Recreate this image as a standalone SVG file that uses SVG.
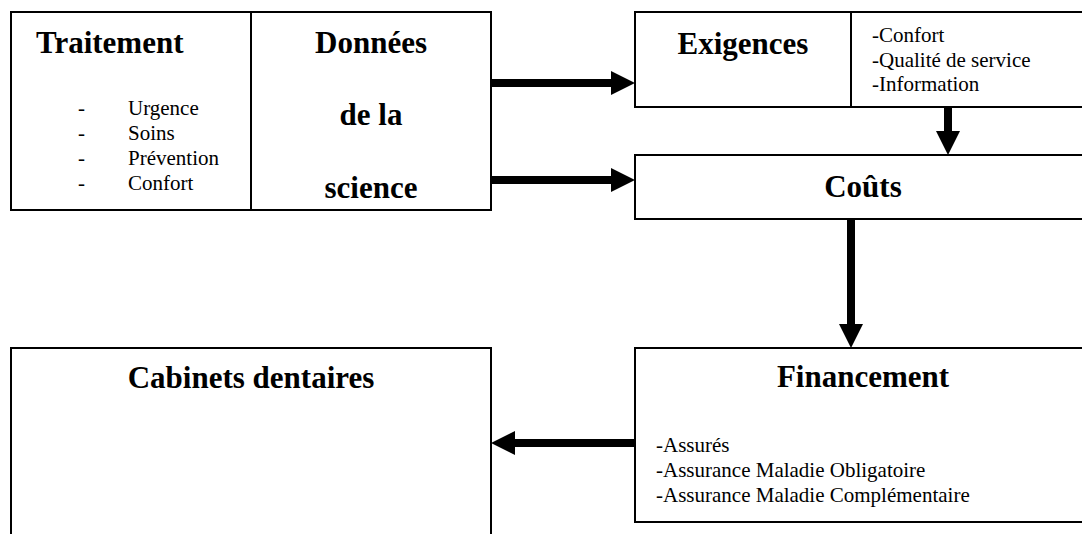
<svg xmlns="http://www.w3.org/2000/svg" width="1082" height="534" viewBox="0 0 1082 534">
  <style>
    .box { fill: #ffffff; stroke: #000000; stroke-width: 2; }
    .div { stroke: #000000; stroke-width: 2; }
    .h { font-family: 'Liberation Serif', 'Times New Roman', Times, serif; font-weight: bold; font-size: 31px; fill: #000; }
    .t { font-family: 'Liberation Serif', 'Times New Roman', Times, serif; font-size: 21px; fill: #000; }
    .c { text-anchor: middle; }
    .arrow { stroke: #000000; stroke-width: 8; fill: none; marker-end: url(#ah); }
  </style>
  <defs>
    <marker id="ah" viewBox="0 0 24 24" markerWidth="24" markerHeight="24" refX="4" refY="12" orient="auto" markerUnits="userSpaceOnUse">
      <path d="M0,0 L24,12 L0,24 z" fill="#000000"/>
    </marker>
  </defs>
  <rect width="1082" height="534" fill="#ffffff"/>

  <g id="traitement-donnees">
    <rect class="box" x="11" y="12" width="480" height="198"/>
    <line class="div" x1="251" y1="12" x2="251" y2="210"/>
    <text class="h" x="36" y="53">Traitement</text>
    <text class="t" x="78" y="115">-</text>
    <text class="t" x="128" y="115">Urgence</text>
    <text class="t" x="78" y="140">-</text>
    <text class="t" x="128" y="140">Soins</text>
    <text class="t" x="78" y="165">-</text>
    <text class="t" x="128" y="165">Prévention</text>
    <text class="t" x="78" y="190">-</text>
    <text class="t" x="128" y="190">Confort</text>
    <text class="h c" x="371" y="53">Données</text>
    <text class="h c" x="371" y="125">de la</text>
    <text class="h c" x="371" y="198">science</text>
  </g>

  <g id="exigences">
    <rect class="box" x="635" y="12" width="456" height="95"/>
    <line class="div" x1="851" y1="12" x2="851" y2="107"/>
    <text class="h c" x="743" y="54">Exigences</text>
    <text class="t" x="872" y="42">-Confort</text>
    <text class="t" x="872" y="66.5">-Qualité de service</text>
    <text class="t" x="872" y="91">-Information</text>
  </g>

  <g id="couts">
    <rect class="box" x="635" y="155" width="456" height="64"/>
    <text class="h c" x="863" y="197">Coûts</text>
  </g>

  <g id="financement">
    <rect class="box" x="635" y="348" width="456" height="174"/>
    <text class="h c" x="863" y="387">Financement</text>
    <text class="t" x="656" y="452">-Assurés</text>
    <text class="t" x="656" y="477">-Assurance Maladie Obligatoire</text>
    <text class="t" x="656" y="502">-Assurance Maladie Complémentaire</text>
  </g>

  <g id="cabinets">
    <rect class="box" x="11" y="348" width="480" height="200"/>
    <text class="h c" x="251" y="388">Cabinets dentaires</text>
  </g>

  <g id="connectors">
    <line class="arrow" x1="491" y1="83" x2="615" y2="83"/>
    <line class="arrow" x1="491" y1="180" x2="615" y2="180"/>
    <line class="arrow" x1="948" y1="107" x2="948" y2="135"/>
    <line class="arrow" x1="851" y1="219" x2="851" y2="328"/>
    <line class="arrow" x1="635" y1="443" x2="511" y2="443"/>
  </g>
</svg>
